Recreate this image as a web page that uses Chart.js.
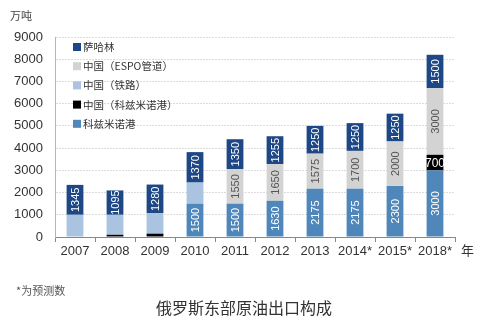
<!DOCTYPE html>
<html>
<head>
<meta charset="utf-8">
<script src="https://cdn.jsdelivr.net/npm/chart.js@4/dist/chart.umd.min.js"></script>
<style>
  html, body { margin: 0; padding: 0; background: #fff; }
  #wrap { position: relative; width: 500px; height: 329px; }
</style>
</head>
<body>
<div id="wrap"><canvas id="c" width="500" height="329"></canvas></div>
<script>
// 俄罗斯东部原油出口构成（万吨）
const years = ['2007', '2008', '2009', '2010', '2011', '2012', '2013', '2014*', '2015*', '2018*'];
const kozmino      = [0, 0, 0, 1500, 1500, 1630, 2175, 2175, 2300, 3000];   // 科兹米诺港
const chinaKozmino = [0, 100, 150, 0, 0, 0, 0, 0, 0, 700];                  // 中国（科兹米诺港）
const chinaRail    = [1000, 900, 930, 950, 0, 0, 0, 0, 0, 0];               // 中国（铁路）
const chinaEspo    = [0, 0, 0, 0, 1550, 1650, 1575, 1700, 2000, 3000];      // 中国（ESPO管道）
const sakhalin     = [1345, 1095, 1280, 1370, 1350, 1255, 1250, 1250, 1250, 1500]; // 萨哈林
const yTicks = [0, 1000, 2000, 3000, 4000, 5000, 6000, 7000, 8000, 9000];

const FONT = '"Liberation Sans", Arial, "Noto Sans CJK SC", sans-serif';
const CJK = '"Noto Sans CJK SC", "Liberation Sans", sans-serif';

const datasets = [
  { label: '科兹米诺港', data: kozmino, backgroundColor: '#4f87bb', valueColor: '#ffffff', valueMode: 'rot' },
  { label: '中国（科兹米诺港）', data: chinaKozmino, backgroundColor: '#000000', valueColor: '#ffffff', valueMode: 'flat' },
  { label: '中国（铁路）', data: chinaRail, backgroundColor: '#a9c3e1', valueMode: 'none' },
  { label: '中国（ESPO管道）', data: chinaEspo, backgroundColor: '#d3d3d3', valueColor: '#555555', valueMode: 'rot' },
  { label: '萨哈林', data: sakhalin, backgroundColor: '#1d4885', valueColor: '#ffffff', valueMode: 'rot' }
].map(d => Object.assign(d, { borderWidth: 0, barPercentage: 0.42, categoryPercentage: 1 }));

// value labels inside the stacked segments
const valueLabels = {
  id: 'valueLabels',
  afterDatasetsDraw(chart) {
    const ctx = chart.ctx;
    chart.data.datasets.forEach((ds, i) => {
      if (ds.valueMode === 'none') return;
      const meta = chart.getDatasetMeta(i);
      meta.data.forEach((bar, j) => {
        const v = ds.data[j];
        if (!v) return;
        const p = bar.getProps(['x', 'y', 'base'], true);
        const h = Math.abs(p.base - p.y);
        const cy = (p.y + p.base) / 2;
        ctx.save();
        ctx.fillStyle = ds.valueColor;
        ctx.textAlign = 'center';
        ctx.textBaseline = 'middle';
        if (ds.valueMode === 'rot') {
          if (h < 22) { ctx.restore(); return; }
          ctx.font = '11px ' + FONT;
          ctx.translate(p.x, cy);
          ctx.rotate(-Math.PI / 2);
          ctx.fillText(String(v), 0, 1);
        } else {
          if (h < 12) { ctx.restore(); return; }
          ctx.font = '12px ' + FONT;
          ctx.fillText(String(v), p.x, cy + 1);
        }
        ctx.restore();
      });
    });
  }
};

// legend inside the plot, unit captions, footnote and title
const extras = {
  id: 'extras',
  afterDraw(chart) {
    const ctx = chart.ctx;
    const area = chart.chartArea;
    ctx.save();
    // legend (top series first)
    const items = chart.data.datasets.slice().reverse();
    const lx = area.left + 18, ly0 = area.top + 10, step = 19.2;
    items.forEach((ds, k) => {
      const y = ly0 + k * step;
      ctx.fillStyle = ds.backgroundColor;
      ctx.fillRect(lx, y - 4, 8, 8);
      ctx.fillStyle = '#333';
      ctx.font = '10.5px ' + CJK;
      ctx.textAlign = 'left';
      ctx.textBaseline = 'middle';
      ctx.fillText(ds.label, lx + 10, y);
    });
    // unit on y axis
    ctx.fillStyle = '#444';
    ctx.font = '11px ' + CJK;
    ctx.textAlign = 'left';
    ctx.textBaseline = 'middle';
    ctx.fillText('万吨', 10, 16);
    // unit on x axis
    ctx.font = '13px ' + CJK;
    ctx.fillStyle = '#333';
    ctx.fillText('年', 461, 250);
    // footnote
    ctx.fillStyle = '#555';
    ctx.font = '11px ' + CJK;
    ctx.fillText('*为预测数', 16, 291);
    // title
    ctx.fillStyle = '#333';
    ctx.font = '16px ' + CJK;
    ctx.textAlign = 'center';
    ctx.fillText('俄罗斯东部原油出口构成', 244, 308);
    ctx.restore();
  }
};

new Chart(document.getElementById('c'), {
  type: 'bar',
  data: { labels: years, datasets },
  options: {
    responsive: false,
    animation: false,
    layout: { padding: { left: 8, right: 45, top: 37, bottom: 70 } },
    plugins: { legend: { display: false }, tooltip: { enabled: false } },
    scales: {
      x: {
        stacked: true,
        offset: true,
        grid: { display: true, drawOnChartArea: false, drawTicks: true, tickLength: 5, offset: true, color: '#888' },
        border: { display: true, color: '#888', width: 1 },
        ticks: { color: '#333', font: { size: 13, family: FONT }, padding: 2, maxRotation: 0 },
        afterFit(s) { s.height = 22; }
      },
      y: {
        stacked: true,
        min: 0,
        max: 9000,
        afterBuildTicks(s) { s.ticks = yTicks.map(v => ({ value: v })); },
        grid: { color: '#dcdcdc', drawTicks: false, lineWidth: 1 },
        border: { display: true, color: '#b5b5b5', width: 1, dash: [2, 1] },
        ticks: { color: '#333', font: { size: 13, family: FONT }, padding: 12, callback: v => String(v) },
        afterFit(s) { s.width = 47; }
      }
    }
  },
  plugins: [valueLabels, extras]
});
</script>
</body>
</html>
